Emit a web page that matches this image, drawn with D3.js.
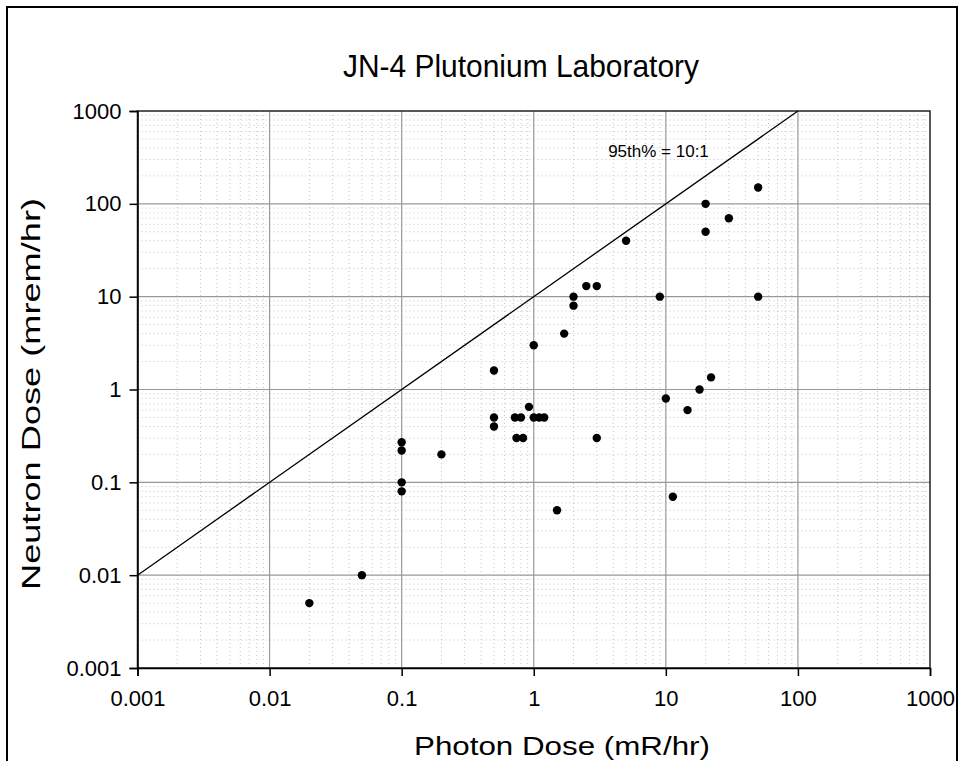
<!DOCTYPE html>
<html><head><meta charset="utf-8">
<script src="https://cdn.jsdelivr.net/npm/d3@7"></script>
<style>
html,body{margin:0;padding:0;background:#fff;}
svg{display:block;font-family:"Liberation Sans",Arial,sans-serif;}
</style></head>
<body>
<svg id="chart" width="964" height="761"></svg>
<script>
const title = "JN-4 Plutonium Laboratory";
const xTitle = "Photon Dose (mR/hr)";
const yTitle = "Neutron Dose (mrem/hr)";
const tickValues = [0.001, 0.01, 0.1, 1, 10, 100, 1000];
const tickLabels = ["0.001", "0.01", "0.1", "1", "10", "100", "1000"];
const photonDose = [0.02, 0.05, 0.1, 0.1, 0.1, 0.1, 0.2, 0.5, 0.5, 0.5, 0.72, 0.8, 0.74, 0.83, 0.92, 1, 1, 1.1, 1.2, 1.5, 1.7, 2, 2, 2.5, 3, 3, 5, 9, 10, 11.3, 14.6, 18, 20, 20, 22, 30, 50, 50];
const neutronDose = [0.005, 0.01, 0.27, 0.22, 0.1, 0.08, 0.2, 1.6, 0.5, 0.4, 0.5, 0.5, 0.3, 0.3, 0.65, 3, 0.5, 0.5, 0.5, 0.05, 4, 10, 8, 13, 13, 0.3, 40, 10, 0.8, 0.07, 0.6, 1, 100, 50, 1.35, 70, 150, 10];
const ratioLineX = [0.001, 100];
const ratioLineY = [0.01, 1000];
const ratioLabel = "95th% = 10:1";
const ratioLabelPos = [8.8, 320];

const svg = d3.select("#chart");
const L = 137.5, R = 930, T = 111, B = 668;
const x = d3.scaleLog().domain([0.001, 1000]).range([L, R]);
const y = d3.scaleLog().domain([0.001, 1000]).range([B, T]);

// outer frame
svg.append("path").attr("d", `M7,761 V7 H957 V761`).attr("fill","none").attr("stroke","#000").attr("stroke-width",2);

// minor grid
const minor = [];
for (let e = -3; e < 3; e++) for (let m = 2; m <= 9; m++) minor.push(m * Math.pow(10, e));
const g = svg.append("g");
g.selectAll(".mx").data(minor).join("line")
  .attr("x1", d => x(d)).attr("x2", d => x(d)).attr("y1", T).attr("y2", B)
  .attr("stroke", "#c4c4c4").attr("stroke-width", 1).attr("stroke-dasharray", "1,3");
g.selectAll(".my").data(minor).join("line")
  .attr("y1", d => y(d)).attr("y2", d => y(d)).attr("x1", L).attr("x2", R)
  .attr("stroke", "#c4c4c4").attr("stroke-width", 1).attr("stroke-dasharray", "1,3");
// major grid
g.selectAll(".Mx").data(tickValues.slice(1, -1)).join("line")
  .attr("x1", d => x(d)).attr("x2", d => x(d)).attr("y1", T).attr("y2", B)
  .attr("stroke", "#999").attr("stroke-width", 1.2);
g.selectAll(".My").data(tickValues.slice(1, -1)).join("line")
  .attr("y1", d => y(d)).attr("y2", d => y(d)).attr("x1", L).attr("x2", R)
  .attr("stroke", "#999").attr("stroke-width", 1.2);

// plot frame
svg.append("rect").attr("x", L).attr("y", T).attr("width", R - L).attr("height", B - T)
  .attr("fill", "none").attr("stroke", "#222").attr("stroke-width", 1.5);

// axes
const fmt = d => tickLabels[tickValues.indexOf(d)];
const xAxis = svg.append("g").attr("transform", `translate(0,${B})`)
  .call(d3.axisBottom(x).tickValues(tickValues).tickFormat(fmt).tickSize(8).tickPadding(14));
const yAxis = svg.append("g").attr("transform", `translate(${L},0)`)
  .call(d3.axisLeft(y).tickValues(tickValues).tickFormat(fmt).tickSize(8).tickPadding(8));
[xAxis, yAxis].forEach(a => {
  a.select(".domain").attr("stroke", "#000").attr("stroke-width", 1.5);
  a.selectAll(".tick line").attr("stroke", "#000").attr("stroke-width", 1.5);
  a.selectAll(".tick text").attr("font-family", "Liberation Sans, Arial, sans-serif")
    .attr("font-size", 22).attr("fill", "#000");
});

// ratio line
svg.append("line")
  .attr("x1", x(ratioLineX[0])).attr("y1", y(ratioLineY[0]))
  .attr("x2", x(ratioLineX[1])).attr("y2", y(ratioLineY[1]))
  .attr("stroke", "#000").attr("stroke-width", 1.3);
svg.append("text").attr("x", x(ratioLabelPos[0])).attr("y", y(ratioLabelPos[1]))
  .attr("text-anchor", "middle").attr("font-size", 17).text(ratioLabel);

// points
svg.append("g").selectAll("circle").data(photonDose).join("circle")
  .attr("cx", d => x(d)).attr("cy", (d, i) => y(neutronDose[i])).attr("r", 4.2).attr("fill", "#000");

// titles
svg.append("text").attr("x", 343).attr("y", 77)
  .attr("font-size", 32).attr("textLength", 356).attr("lengthAdjust", "spacingAndGlyphs").text(title);
svg.append("text").attr("x", 414).attr("y", 755)
  .attr("font-size", 26).attr("textLength", 296).attr("lengthAdjust", "spacingAndGlyphs").text(xTitle);
svg.append("text").attr("transform", `translate(40,590) rotate(-90)`)
  .attr("font-size", 26).attr("textLength", 392).attr("lengthAdjust", "spacingAndGlyphs").text(yTitle);
</script>
</body></html>
